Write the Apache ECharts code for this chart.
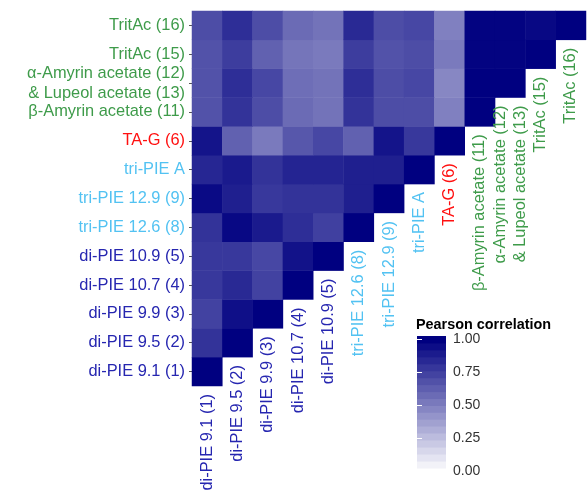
<!DOCTYPE html>
<html><head><meta charset="utf-8">
<script src="https://cdn.jsdelivr.net/npm/echarts@6/dist/echarts.min.js"></script>
<style>html,body{margin:0;padding:0;background:#fff}#c{width:587px;height:492px}</style>
</head><body><div id="c"></div>
<script>
// Categories, bottom (index 0) to top
const categories = [
  'di-PIE 9.1 (1)', 'di-PIE 9.5 (2)', 'di-PIE 9.9 (3)', 'di-PIE 10.7 (4)', 'di-PIE 10.9 (5)',
  'tri-PIE 12.6 (8)', 'tri-PIE 12.9 (9)', 'tri-PIE A', 'TA-G (6)',
  'β-Amyrin acetate (11)', 'α-Amyrin acetate (12)\n& Lupeol acetate (13)', 'TritAc (15)', 'TritAc (16)'
];
const groups = ['di','di','di','di','di','tri','tri','tri','tag','ter','ter','ter','ter'];

// Lower-triangle Pearson correlations, one row per compound (columns 0..row)
const row_diPIE91  = [1.00];
const row_diPIE95  = [0.80, 1.00];
const row_diPIE99  = [0.74, 0.94, 1.00];
const row_diPIE107 = [0.78, 0.84, 0.74, 1.00];
const row_diPIE109 = [0.78, 0.78, 0.72, 0.93, 1.00];
const row_triPIE126 = [0.80, 0.97, 0.90, 0.82, 0.75, 1.00];
const row_triPIE129 = [0.96, 0.88, 0.78, 0.80, 0.80, 0.88, 1.00];
const row_triPIEA  = [0.85, 0.90, 0.80, 0.86, 0.86, 0.88, 0.88, 1.00];
const row_TAG      = [0.92, 0.62, 0.52, 0.66, 0.72, 0.62, 0.92, 0.78, 1.00];
const row_bAmyrin  = [0.68, 0.80, 0.70, 0.58, 0.55, 0.80, 0.70, 0.70, 0.50, 1.00];
const row_aAmyrin  = [0.68, 0.82, 0.72, 0.57, 0.55, 0.82, 0.70, 0.72, 0.47, 1.00, 1.00];
const row_TritAc15 = [0.68, 0.76, 0.62, 0.54, 0.52, 0.76, 0.68, 0.70, 0.52, 0.99, 0.99, 1.00];
const row_TritAc16 = [0.70, 0.82, 0.70, 0.58, 0.55, 0.84, 0.70, 0.72, 0.50, 0.99, 0.99, 0.97, 1.00];

const legendTicks = [0, 0.25, 0.5, 0.75, 1];

const rows = [row_diPIE91, row_diPIE95, row_diPIE99, row_diPIE107, row_diPIE109,
  row_triPIE126, row_triPIE129, row_triPIEA, row_TAG, row_bAmyrin, row_aAmyrin, row_TritAc15, row_TritAc16];

const groupColors = {di: '#2626b0', tri: '#52c2f2', tag: '#ff1010', ter: '#3e9b4a'};
const FONT = "'Liberation Sans', Arial, Helvetica, sans-serif";

const heatData = [];
rows.forEach((vals, r) => vals.forEach((v, c) => heatData.push([c, r, v])));

// colourbar bins (ggplot style, 20 bins)
const NBIN = 20;
const legendBins = [];
for (let i = 0; i < NBIN; i++) legendBins.push([0, i / (NBIN - 1)]);
const half = 1 / (2 * (NBIN - 1));

const chart = echarts.init(document.getElementById('c'), null, {renderer: 'canvas'});
chart.setOption({
  animation: false,
  backgroundColor: '#fff',
  textStyle: {fontFamily: FONT},
  title: {
    text: 'Pearson correlation', left: 416, top: 318, padding: 0,
    textStyle: {fontSize: 14.4, fontWeight: 'bold', color: '#000', fontFamily: FONT}
  },
  grid: [
    {left: 192, top: 11, width: 394, height: 375},
    {left: 417, top: 336, width: 29, height: 139}
  ],
  xAxis: [
    {type: 'category', gridIndex: 0, data: categories, axisLine: {show: false},
     axisTick: {show: false}, axisLabel: {show: false}, splitLine: {show: false}},
    {type: 'value', gridIndex: 1, min: 0, max: 1, show: false}
  ],
  yAxis: [
    {type: 'category', gridIndex: 0, data: categories,
     axisLine: {show: false},
     axisTick: {show: true, alignWithLabel: true, length: 3, lineStyle: {color: '#555', width: 1}},
     axisLabel: {margin: 7, fontSize: 16.4, lineHeight: 20, fontFamily: FONT,
       color: (v, i) => groupColors[groups[i]]},
     splitLine: {show: false}},
    {type: 'value', gridIndex: 1, position: 'right', min: -half, max: 1 + half, z: 10,
     axisLine: {show: false}, splitLine: {show: false},
     axisTick: {show: true, inside: true, length: 5, customValues: legendTicks, lineStyle: {color: '#fff', width: 1}},
     axisLabel: {customValues: legendTicks, margin: 7, fontSize: 14, color: '#333', fontFamily: FONT,
       formatter: v => Number(v).toFixed(2)}},
    {type: 'value', gridIndex: 1, position: 'left', min: -half, max: 1 + half, z: 10,
     axisLine: {show: false}, splitLine: {show: false},
     axisTick: {show: true, inside: true, length: 5, customValues: legendTicks, lineStyle: {color: '#fff', width: 1}},
     axisLabel: {show: false}}
  ],
  visualMap: {
    type: 'continuous', show: false, min: 0, max: 1, seriesIndex: [0, 2],
    inRange: {color: ['#ffffff', '#000080']}
  },
  series: [
    {type: 'heatmap', xAxisIndex: 0, yAxisIndex: 0, data: heatData,
     itemStyle: {borderWidth: 0}, emphasis: {disabled: true}, progressive: 0},
    {type: 'custom', xAxisIndex: 0, yAxisIndex: 0, silent: true, clip: false,
     data: categories.map((_, i) => [i, i]),
     renderItem: (params, api) => {
       const c = api.value(0);
       const p = api.coord([c, c]);
       const s = api.size([1, 1]);
       return {type: 'text', x: p[0], y: p[1] + s[1] / 2 + 8, rotation: Math.PI / 2,
         style: {text: categories[c], fill: groupColors[groups[c]], font: '16.4px ' + FONT,
           align: 'right', verticalAlign: 'middle', lineHeight: 20}};
     }},
    {type: 'custom', xAxisIndex: 1, yAxisIndex: 1, silent: true,
     data: legendBins,
     renderItem: (params, api) => {
       const v = api.value(1);
       const p1 = api.coord([0, v + half]);
       const p2 = api.coord([1, v - half]);
       return {type: 'rect', shape: {x: p1[0], y: p1[1], width: p2[0] - p1[0], height: p2[1] - p1[1] + 0.5},
         style: {fill: api.visual('color')}};
     }}
  ]
});
</script></body></html>
